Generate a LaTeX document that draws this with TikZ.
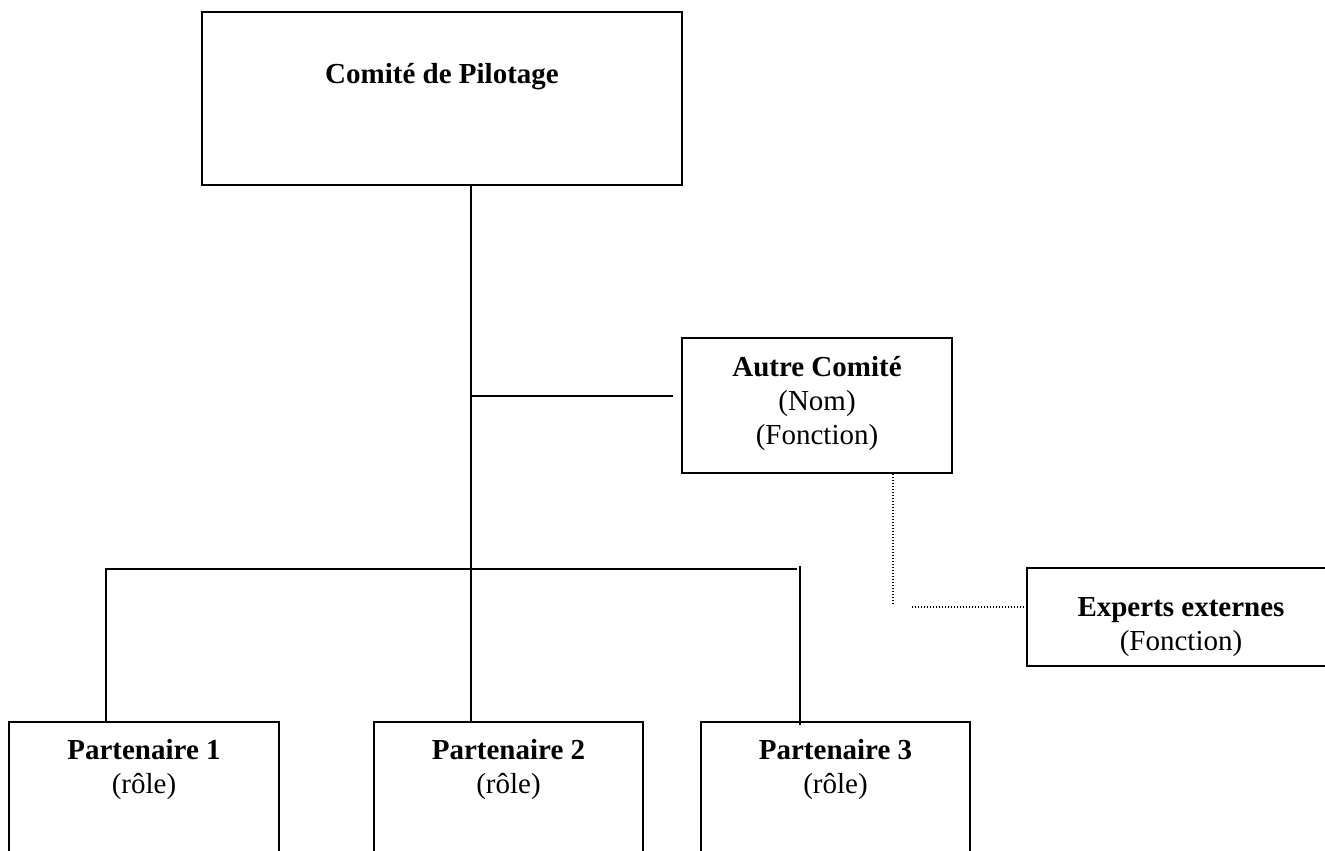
\documentclass[tikz,border=0pt]{standalone}
\usepackage{fontspec}
\setmainfont{Liberation Serif}
\begin{document}
\begin{tikzpicture}[x=1pt,y=-1pt,
  box/.style={draw, line width=1.4pt, inner sep=0pt},
  lbl/.style={font=\fontsize{29}{34}\selectfont, align=center, anchor=base, inner sep=0pt},
  link/.style={line width=1.4pt},
  dotlink/.style={line width=1.1pt, dash pattern=on 1pt off 2pt}]
\useasboundingbox (0,0) rectangle (1325,851);
\clip (0,0) rectangle (1325,851);
% boxes
\node[box, minimum width=480pt, minimum height=173pt] (cp) at (442,98.5) {};
\node[box, minimum width=270pt, minimum height=135pt] (ac) at (817,405.5) {};
\node[box, minimum width=308pt, minimum height=98pt] (ex) at (1181,617) {};
\node[box, minimum width=270pt, minimum height=178pt] (p1) at (144,811) {};
\node[box, minimum width=269pt, minimum height=178pt] (p2) at (508.5,811) {};
\node[box, minimum width=269pt, minimum height=178pt] (p3) at (835.5,811) {};
% labels (base anchor = baseline of the last line)
\node[lbl] (cpt) at (442,83) {\textbf{Comité de Pilotage}};
\node[lbl] (act) at (817,444) {\textbf{Autre Comité}\\(Nom)\\(Fonction)};
\node[lbl] (ext) at (1181,650) {\textbf{Experts externes}\\(Fonction)};
\node[lbl] (p1t) at (144,793) {\textbf{Partenaire 1}\\(rôle)};
\node[lbl] (p2t) at (508.5,793) {\textbf{Partenaire 2}\\(rôle)};
\node[lbl] (p3t) at (835.5,793) {\textbf{Partenaire 3}\\(rôle)};
% connectors
\coordinate (j1) at (471,396);
\coordinate (b1) at (106,569);
\coordinate (b3) at (797,569);
\coordinate (r3) at (800,566);
\coordinate (d1) at (893,603);
\coordinate (d2) at (912,607);
\draw[link] (cp.south -| j1) -- (p2.north -| j1);
\draw[link] (j1) -- ([xshift=-8pt]ac.west |- j1);
\draw[link] (p1.north -| b1) -- (b1) -- (b3);
\draw[link] (r3) -- ([yshift=-4pt]p3.north -| r3);
\draw[dotlink] (ac.south -| d1) -- (d1);
\draw[dotlink] (d2) -- (ex.west |- d2);
\end{tikzpicture}
\end{document}
